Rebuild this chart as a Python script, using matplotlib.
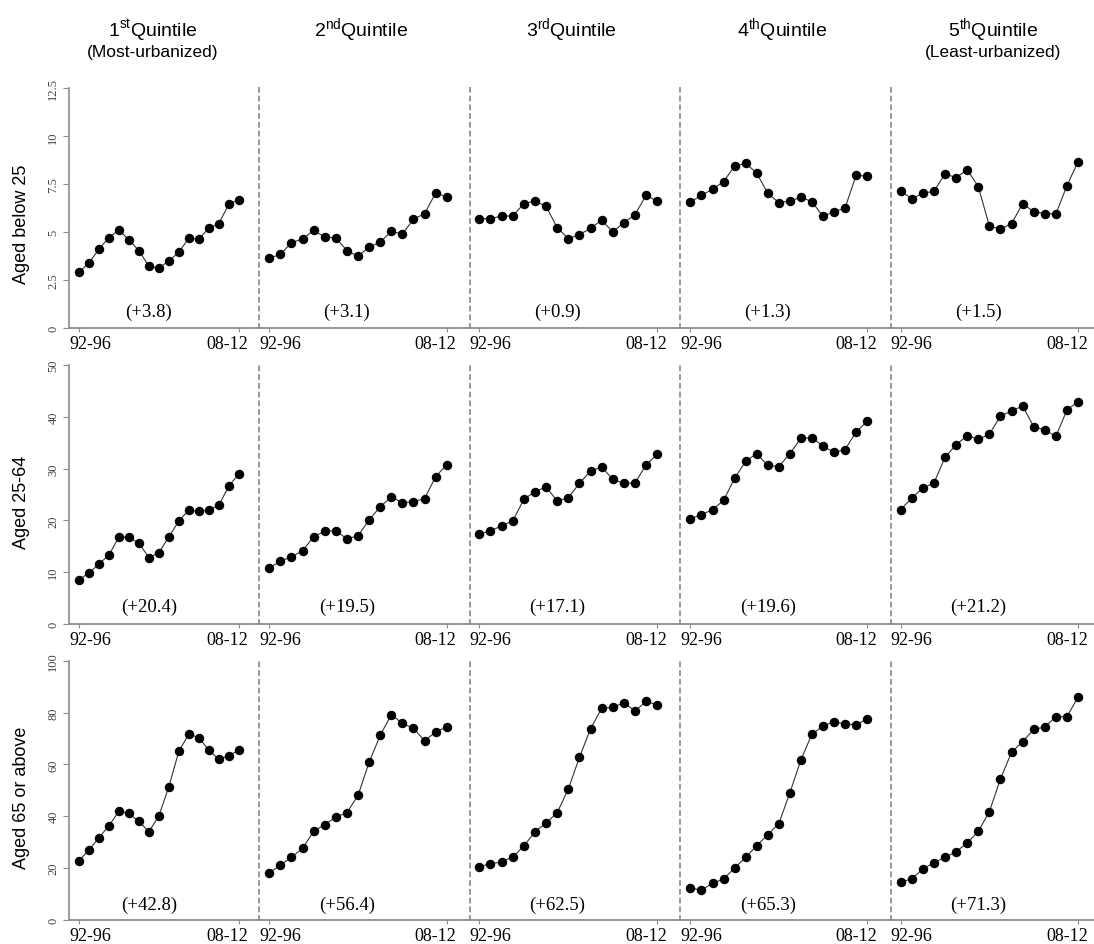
import matplotlib
matplotlib.use('Agg')
import matplotlib.pyplot as plt
from matplotlib.transforms import ScaledTranslation, blended_transform_factory

plt.rcParams['mathtext.fontset'] = 'custom'
plt.rcParams['mathtext.rm'] = 'Liberation Sans'
SERIF = 'Liberation Serif'
SANS = 'Liberation Sans'

# 5-year windows 92-96 ... 08-12
periods = ['92-96', '93-97', '94-98', '95-99', '96-00', '97-01', '98-02', '99-03', '00-04',
           '01-05', '02-06', '03-07', '04-08', '05-09', '06-10', '07-11', '08-12']

quintiles = ['1$^{\\mathrm{st}}$Quintile', '2$^{\\mathrm{nd}}$Quintile', '3$^{\\mathrm{rd}}$Quintile',
             '4$^{\\mathrm{th}}$Quintile', '5$^{\\mathrm{th}}$Quintile']
subtitles = ['(Most-urbanized)', '', '', '', '(Least-urbanized)']
row_labels = ['Aged below 25', 'Aged 25-64', 'Aged 65 or above']

below25 = [
    [2.92, 3.40, 4.13, 4.72, 5.12, 4.60, 4.05, 3.23, 3.14, 3.51, 3.96, 4.70, 4.65, 5.21, 5.45, 6.46, 6.70],
    [3.65, 3.85, 4.46, 4.65, 5.10, 4.76, 4.70, 4.05, 3.75, 4.24, 4.48, 5.05, 4.91, 5.68, 5.97, 7.05, 6.84],
    [5.71, 5.71, 5.85, 5.85, 6.49, 6.63, 6.35, 5.24, 4.67, 4.88, 5.21, 5.63, 5.02, 5.50, 5.92, 6.94, 6.61],
    [6.58, 6.93, 7.24, 7.64, 8.45, 8.59, 8.09, 7.03, 6.55, 6.63, 6.82, 6.60, 5.83, 6.08, 6.25, 7.97, 7.92],
    [7.15, 6.75, 7.03, 7.14, 8.04, 7.85, 8.26, 7.38, 5.33, 5.17, 5.45, 6.49, 6.08, 5.97, 5.95, 7.43, 8.68],
]
aged25_64 = [
    [8.56, 9.85, 11.58, 13.32, 16.80, 16.73, 15.64, 12.81, 13.77, 16.80, 19.88, 22.01, 21.75, 22.01, 22.91, 26.58, 29.02],
    [10.88, 12.10, 13.00, 14.09, 16.86, 17.89, 18.02, 16.41, 17.05, 20.08, 22.65, 24.52, 23.42, 23.62, 24.20, 28.44, 30.76],
    [17.37, 18.02, 18.92, 19.88, 24.07, 25.55, 26.45, 23.75, 24.39, 27.16, 29.54, 30.31, 27.93, 27.16, 27.22, 30.76, 32.75],
    [20.33, 21.11, 22.07, 23.87, 28.12, 31.40, 32.88, 30.63, 30.37, 32.88, 35.84, 35.97, 34.36, 33.14, 33.66, 37.07, 39.12],
    [22.07, 24.32, 26.25, 27.22, 32.18, 34.62, 36.36, 35.65, 36.62, 40.15, 41.12, 42.08, 38.10, 37.45, 36.23, 41.31, 42.92],
]
aged65 = [
    [22.81, 26.93, 31.70, 36.34, 41.88, 41.11, 38.02, 34.02, 40.08, 51.42, 65.08, 71.78, 70.36, 65.59, 61.98, 63.40, 65.59],
    [18.04, 21.13, 24.10, 27.58, 34.15, 36.73, 39.69, 41.37, 48.07, 60.82, 71.26, 79.25, 75.90, 73.97, 69.20, 72.55, 74.48],
    [20.49, 21.65, 22.29, 24.23, 28.48, 34.02, 37.37, 41.37, 50.52, 62.76, 73.84, 81.70, 82.09, 83.89, 80.67, 84.41, 82.99],
    [12.24, 11.47, 14.05, 15.72, 19.97, 24.10, 28.61, 32.86, 37.11, 48.97, 61.73, 71.65, 74.87, 76.55, 75.64, 75.39, 77.58],
    [14.43, 15.85, 19.59, 22.04, 24.10, 26.29, 29.64, 34.15, 41.75, 54.38, 64.69, 68.81, 73.58, 74.48, 78.48, 78.48, 86.08],
]
changes = [
    [3.8, 3.1, 0.9, 1.3, 1.5],
    [20.4, 19.5, 17.1, 19.6, 21.2],
    [42.8, 56.4, 62.5, 65.3, 71.3],
]
yticks = [[0, 2.5, 5, 7.5, 10, 12.5], [0, 10, 20, 30, 40, 50], [0, 20, 40, 60, 80, 100]]
yticklabels = [['0', '2.5', '5', '7.5', '10', '12.5'],
               ['0', '10', '20', '30', '40', '50'],
               ['0', '20', '40', '60', '80', '100']]
ylims = [12.5, 50, 100]
data = [below25, aged25_64, aged65]

W, H = 1094, 945
fig = plt.figure(figsize=(W / 100, H / 100), dpi=100)

# layout in pixels
col_px = [(69, 259.3), (259.3, 469.7), (469.7, 680.4), (680.4, 890.6), (890.6, 1094)]
xlims = [(-1.0, 18.06), (-0.9, 18.07), (-0.87, 18.08), (-0.91, 18.13), (-0.91, 17.44)]
row_px = [(89.3, 329.3), (366, 625), (662, 920.7)]
label_y = [224, 502, 798]
ann_y = [0.07, 0.07, 0.06]
grey = '#8c8c8c'

x = list(range(len(periods)))
for r in range(3):
    top, bot = row_px[r]
    for c in range(5):
        left, right = col_px[c]
        ax = fig.add_axes([left / W, 1 - bot / H, (right - left) / W, (bot - top) / H])
        ax.plot(x, data[r][c], '-o', color='#333333', lw=0.8, ms=5.8,
                mfc='black', mec='black')
        ax.set_xlim(*xlims[c])
        ax.set_ylim(0, ylims[r])
        ax.text(7, ann_y[r], f'(+{changes[r][c]:.1f})', transform=ax.get_xaxis_transform(),
                ha='center', va='center', family=SERIF, fontsize=13.5)

        for s in ['top', 'right']:
            ax.spines[s].set_visible(False)
        ax.spines['bottom'].set_color(grey)
        ax.spines['bottom'].set_linewidth(1.3)

        ax.set_xticks([0, 16])
        ax.set_xticklabels([periods[0], periods[-1]], family=SERIF, fontsize=13)
        ax.tick_params(axis='x', length=3, color=grey, pad=2)
        for lab, dx in zip(ax.get_xticklabels(), [11, -11]):
            lab.set_transform(lab.get_transform() + ScaledTranslation(dx / 100, 0, fig.dpi_scale_trans))

        if c == 0:
            ax.spines['left'].set_color(grey)
            ax.spines['left'].set_linewidth(1.2)
            ax.set_yticks(yticks[r])
            ax.set_yticklabels(yticklabels[r], rotation=90, va='center', family=SERIF,
                               fontsize=9, color='#444444')
            ax.tick_params(axis='y', length=4, color=grey, pad=3)
        else:
            ax.spines['left'].set_color('#999999')
            ax.spines['left'].set_linewidth(1.4)
            ax.spines['left'].set_linestyle((0, (2, 2.5)))
            ax.set_yticks([])

        if r == 0:
            tx = 7.4 if c == 0 else 8.3
            tr = blended_transform_factory(ax.transData, fig.transFigure)
            ax.text(tx, 1 - 31 / H, quintiles[c], transform=tr, ha='center', va='center',
                    family=SANS, fontsize=14)
            if subtitles[c]:
                ax.text(tx, 1 - 53 / H, subtitles[c], transform=tr, ha='center', va='center',
                        family=SANS, fontsize=12.5)

    fig.text(22 / W, 1 - label_y[r] / H, row_labels[r], rotation=90, ha='center', va='center',
             family=SANS, fontsize=13)

fig.savefig('out.png', dpi=100)
